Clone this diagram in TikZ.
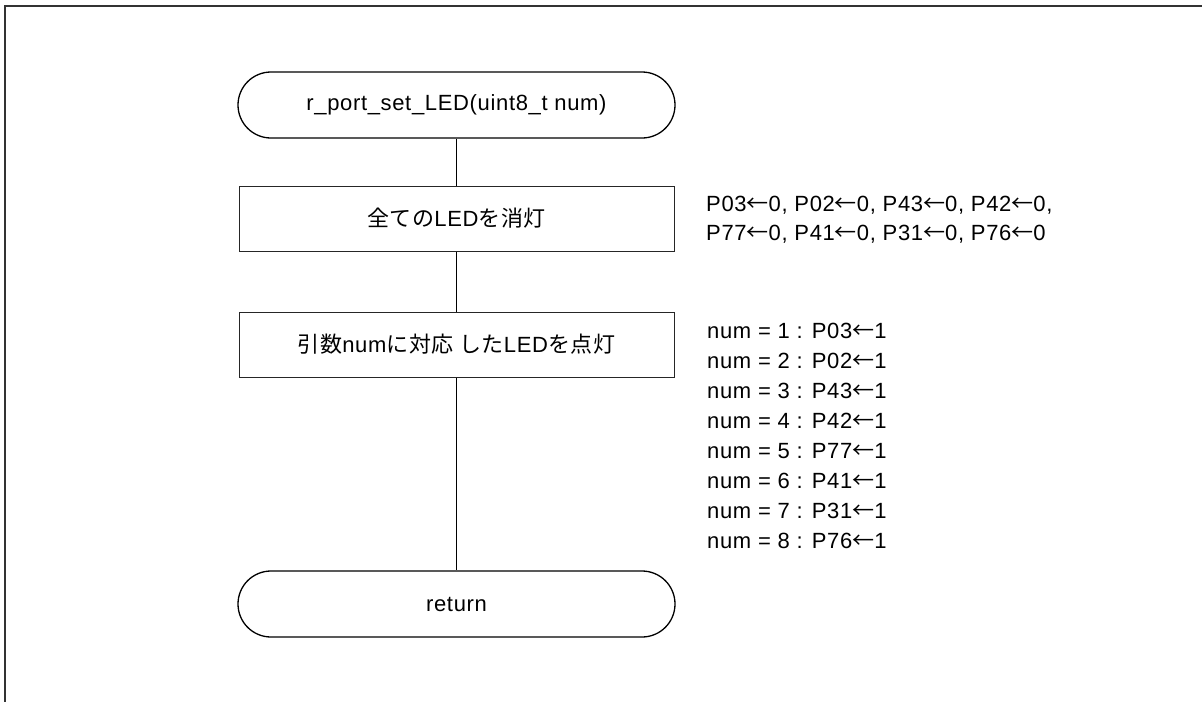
\documentclass[tikz,border=0pt]{standalone}
\usepackage{fontspec}
\setmainfont[LetterSpace=3]{Liberation Sans}
\newfontfamily\cjk[LetterSpace=3]{Noto Sans CJK JP}
\newcommand{\larr}{{\cjk ←}}
\begin{document}
\begin{tikzpicture}[x=1pt,y=-1pt,
  every node/.style={font=\fontsize{22}{26}\selectfont},
  terminal/.style={draw=black,line width=1.3pt,rectangle,rounded corners=33pt,
    minimum width=437pt,minimum height=66pt,inner sep=0pt},
  procbox/.style={draw=black!85,line width=1pt,rectangle,
    minimum width=435pt,minimum height=65pt,inner sep=0pt},
  flow/.style={draw=black,line width=1.6pt},
  note/.style={anchor=base west,inner sep=0pt},
  frame/.style={draw=black!80,line width=1.5pt}]
\useasboundingbox (0,0) rectangle (1202,702);
\draw[frame] (1202,6) -- (5,6) -- (5,702);
\node[terminal] (start) at (456.5,105) {r\_port\_set\_LED(uint8\_t num)};
\node[procbox] (off) at (456.5,218.5) {{\cjk 全ての}LED{\cjk を消灯}};
\node[procbox] (on) at (456.5,344.5) {{\cjk 引数}num{\cjk に対応 した}LED{\cjk を点灯}};
\node[terminal] (ret) at (456.5,604) {return};
\draw[flow] (start.south) -- (off.north);
\draw[flow] (off.south) -- (on.north);
\draw[flow] (on.south) -- (ret.north);
\node[note] (n1) at (706,211) {P03\larr0, P02\larr0, P43\larr0, P42\larr0,};
\node[note] (n2) at (706,240) {P77\larr0, P41\larr0, P31\larr0, P76\larr0};
\node[note] (m1) at (707,338) {num = 1 : P03\larr1};
\node[note] (m2) at (707,368) {num = 2 : P02\larr1};
\node[note] (m3) at (707,398) {num = 3 : P43\larr1};
\node[note] (m4) at (707,428) {num = 4 : P42\larr1};
\node[note] (m5) at (707,458) {num = 5 : P77\larr1};
\node[note] (m6) at (707,488) {num = 6 : P41\larr1};
\node[note] (m7) at (707,518) {num = 7 : P31\larr1};
\node[note] (m8) at (707,548) {num = 8 : P76\larr1};
\end{tikzpicture}
\end{document}
